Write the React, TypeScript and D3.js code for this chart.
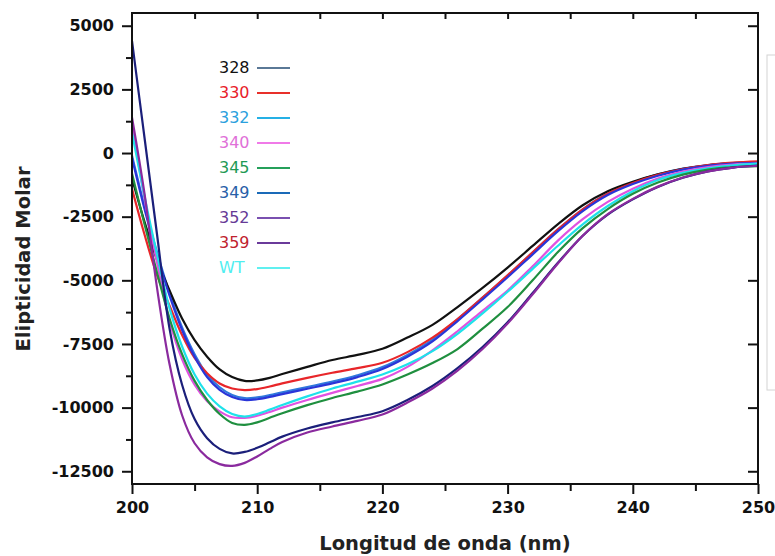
import React, { useEffect, useRef } from 'react'
import * as d3 from 'd3'

// wavelengths (nm)
const wavelengths = [200, 201, 202, 203, 204, 205, 206, 207, 208, 209, 210, 211, 212, 214, 216, 218, 220, 222, 224, 226, 228, 230, 232, 234, 236, 238, 240, 242, 244, 246, 248, 250]

// molar ellipticity for each mutant
const v328 = [-1000, -2700, -4200, -5400, -6500, -7350, -8000, -8500, -8800, -8950, -8930, -8830, -8680, -8400, -8130, -7930, -7690, -7250, -6750, -6050, -5300, -4500, -3650, -2800, -2050, -1500, -1130, -840, -620, -480, -400, -360]
const v330 = [-1400, -3200, -4800, -6000, -7150, -8050, -8650, -9050, -9250, -9310, -9270, -9170, -9050, -8830, -8630, -8450, -8240, -7820, -7250, -6520, -5680, -4800, -3900, -3010, -2210, -1600, -1180, -860, -630, -470, -380, -330]
const v332 = [-100, -2100, -3900, -5500, -6850, -7900, -8700, -9200, -9500, -9630, -9600, -9510, -9400, -9190, -8980, -8730, -8410, -7930, -7330, -6530, -5680, -4810, -3910, -3010, -2210, -1590, -1160, -840, -610, -470, -400, -380]
const v340 = [1200, -1800, -4300, -6600, -8100, -9100, -9750, -10150, -10380, -10400, -10320, -10170, -10000, -9700, -9420, -9150, -8870, -8400, -7750, -7000, -6200, -5400, -4450, -3450, -2600, -1920, -1400, -1000, -730, -550, -450, -420]
const v345 = [-800, -2800, -4700, -6500, -7900, -8950, -9700, -10250, -10600, -10680, -10580, -10400, -10220, -9900, -9620, -9370, -9090, -8700, -8250, -7700, -6900, -6050, -5000, -3900, -2950, -2200, -1600, -1160, -850, -650, -550, -520]
const v349 = [-200, -2200, -4000, -5600, -6950, -8000, -8800, -9300, -9580, -9700, -9670, -9580, -9470, -9260, -9050, -8800, -8480, -8000, -7400, -6600, -5750, -4880, -3980, -3080, -2280, -1650, -1220, -890, -650, -500, -420, -390]
const v352 = [4400, 600, -3200, -6900, -9100, -10450, -11200, -11620, -11800, -11740, -11580, -11360, -11140, -10820, -10580, -10370, -10140, -9700, -9150, -8450, -7620, -6650, -5500, -4320, -3250, -2420, -1820, -1330, -970, -720, -570, -490]
const v359 = [1400, -1600, -5300, -8300, -10300, -11400, -11950, -12220, -12290, -12170, -11920, -11620, -11350, -10980, -10740, -10520, -10270, -9800, -9250, -8550, -7700, -6700, -5550, -4350, -3250, -2400, -1800, -1320, -960, -720, -570, -500]
const vWT = [800, -1700, -4000, -6100, -7600, -8700, -9450, -9950, -10250, -10350, -10250, -10080, -9900, -9560, -9250, -8980, -8700, -8300, -7780, -7100, -6300, -5450, -4550, -3650, -2800, -2080, -1500, -1060, -780, -600, -480, -420]

const legendLabels = ['328', '330', '332', '340', '345', '349', '352', '359', 'WT']
const yMajor = [-12500, -10000, -7500, -5000, -2500, 0, 2500, 5000]
const yMinor = [-11250, -8750, -6250, -3750, -1250, 1250, 3750]
const xMajor = [200, 210, 220, 230, 240, 250]
const xMinor = [205, 215, 225, 235, 245]

export default function App() {
    const ref = useRef(null)

    useEffect(() => {
        const width = 775
        const height = 556
        const margin = { top: 13, right: 17, bottom: 72, left: 132 }

        const svg = d3.select(ref.current)
        svg.selectAll('*').remove()

        const x = d3.scaleLinear().domain([200, 250]).range([margin.left, width - margin.right])
        const y = d3.scaleLinear().domain([-13000, 5500]).range([height - margin.bottom, margin.top])

        // curves (draw order, colours)
        const series = [
            { name: '332', values: v332, color: '#2f78dc' },
            { name: '328', values: v328, color: '#111111' },
            { name: '330', values: v330, color: '#e8262a' },
            { name: '349', values: v349, color: '#2a35d8' },
            { name: '340', values: v340, color: '#e052e0' },
            { name: 'WT', values: vWT, color: '#1ee2ea' },
            { name: '345', values: v345, color: '#1f8f3f' },
            { name: '352', values: v352, color: '#1b1f7a' },
            { name: '359', values: v359, color: '#8a2a9e' }
        ]

        const line = d3.line()
            .x((d, i) => x(wavelengths[i]))
            .y(d => y(d))
            .curve(d3.curveCatmullRom.alpha(0.5))

        svg.append('defs').append('clipPath').attr('id', 'plotclip')
            .append('rect')
            .attr('x', x(200)).attr('y', y(5500))
            .attr('width', x(250) - x(200)).attr('height', y(-13000) - y(5500))

        const plot = svg.append('g').attr('clip-path', 'url(#plotclip)')
        series.forEach(s => {
            plot.append('path')
                .datum(s.values)
                .attr('fill', 'none')
                .attr('stroke', s.color)
                .attr('stroke-width', 2.2)
                .attr('d', line)
        })

        const tickFont = (g) => g.selectAll('text')
            .attr('font-family', '"DejaVu Sans", sans-serif')
            .attr('font-weight', 'bold')
            .attr('font-size', 16)
            .attr('fill', '#111')

        // left axis
        const yAxisGroup = svg.append('g').attr('transform', `translate(${x(200)},0)`)
        yAxisGroup.call(d3.axisLeft(y).tickValues(yMajor).tickSize(10).tickPadding(8).tickFormat(d => d))
        tickFont(yAxisGroup)
        yAxisGroup.select('.domain').remove()
        const yMinorGroup = svg.append('g').attr('transform', `translate(${x(200)},0)`)
        yMinorGroup.call(d3.axisLeft(y).tickValues(yMinor).tickSize(6).tickFormat(''))
        yMinorGroup.select('.domain').remove()

        // right axis (ticks inward)
        const rightGroup = svg.append('g').attr('transform', `translate(${x(250)},0)`)
        rightGroup.call(d3.axisLeft(y).tickValues(yMajor).tickSize(10).tickFormat(''))
        rightGroup.select('.domain').remove()

        // bottom axis
        const xAxisGroup = svg.append('g').attr('transform', `translate(0,${y(-13000)})`)
        xAxisGroup.call(d3.axisBottom(x).tickValues(xMajor).tickSize(10).tickPadding(8).tickFormat(d => d))
        tickFont(xAxisGroup)
        xAxisGroup.select('.domain').remove()
        const xMinorGroup = svg.append('g').attr('transform', `translate(0,${y(-13000)})`)
        xMinorGroup.call(d3.axisBottom(x).tickValues(xMinor).tickSize(7).tickFormat(''))
        xMinorGroup.select('.domain').remove()

        // top ticks inward
        const topGroup = svg.append('g').attr('transform', `translate(0,${y(5500)})`)
        topGroup.call(d3.axisTop(x).tickValues(xMinor.concat(xMajor.slice(1, -1))).tickSize(-6).tickFormat(''))
        topGroup.select('.domain').remove()

        svg.selectAll('.tick line').attr('stroke', '#111').attr('stroke-width', 2)

        // frame
        svg.append('rect')
            .attr('x', x(200)).attr('y', y(5500))
            .attr('width', x(250) - x(200)).attr('height', y(-13000) - y(5500))
            .attr('fill', 'none').attr('stroke', '#111').attr('stroke-width', 2)

        // axis titles
        svg.append('text')
            .attr('x', (x(200) + x(250)) / 2)
            .attr('y', 550)
            .attr('text-anchor', 'middle')
            .attr('font-family', '"DejaVu Sans", sans-serif')
            .attr('font-weight', 'bold')
            .attr('font-size', 19.5)
            .attr('fill', '#222')
            .text('Longitud de onda (nm)')

        svg.append('text')
            .attr('transform', 'translate(30,259) rotate(-90)')
            .attr('text-anchor', 'middle')
            .attr('font-family', '"DejaVu Sans", sans-serif')
            .attr('font-weight', 'bold')
            .attr('font-size', 19.5)
            .attr('fill', '#222')
            .text('Elipticidad Molar')

        // legend
        const labelColors = ['#111111', '#e8202a', '#2aa0dd', '#e070d8', '#1f9a55', '#2860a8', '#663a96', '#c0222e', '#50eef0']
        const legendLineColors = ['#5a7896', '#e8302a', '#25b0e5', '#f07ae8', '#25a05a', '#1a6ab8', '#7a50b0', '#6a3a9a', '#60f0f0']
        const legend = svg.append('g').attr('transform', 'translate(219,67)')
        legendLabels.forEach((lab, i) => {
            const row = legend.append('g').attr('transform', `translate(0,${i * 25})`)
            row.append('text')
                .attr('x', 0).attr('y', 6)
                .attr('font-family', '"DejaVu Sans", sans-serif')
                .attr('font-size', 16)
                .attr('fill', labelColors[i])
                .text(lab)
            row.append('line')
                .attr('x1', 38).attr('x2', 71)
                .attr('y1', 1).attr('y2', 1)
                .attr('stroke', legendLineColors[i])
                .attr('stroke-width', 2)
        })

        // faint box cut at the right edge
        svg.append('rect')
            .attr('x', 767).attr('y', 55).attr('width', 30).attr('height', 335)
            .attr('fill', 'none').attr('stroke', '#d4d4d4').attr('stroke-width', 1)
    }, [])

    return (
        <div style={{ position: 'fixed', left: 0, top: 0, background: '#fff' }}>
            <svg ref={ref} width={775} height={556} />
        </div>
    )
}
